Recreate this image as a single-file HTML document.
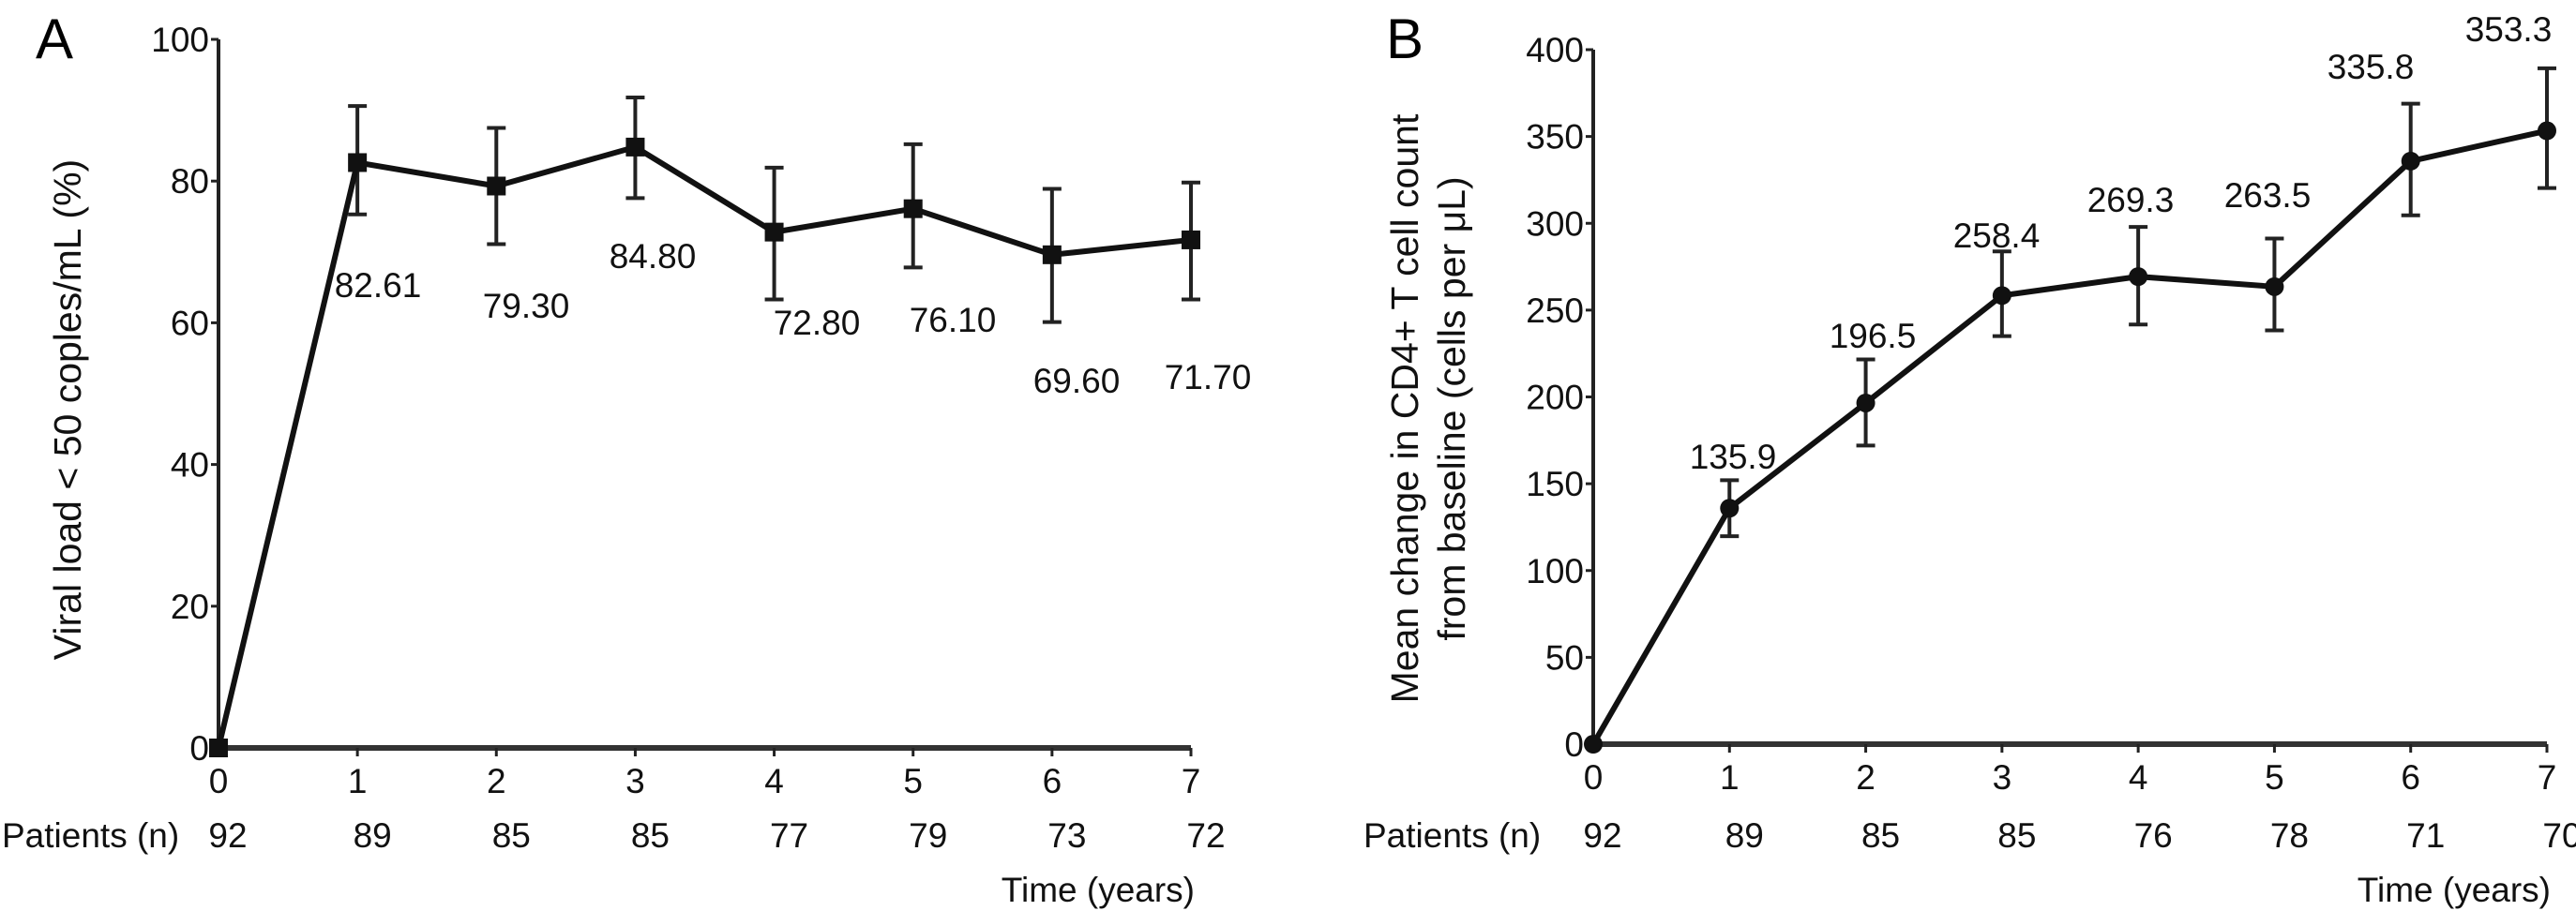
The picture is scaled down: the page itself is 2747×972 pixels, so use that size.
<!DOCTYPE html>
<html><head><meta charset="utf-8"><style>
html,body{margin:0;padding:0;background:#fff;}
svg{display:block;font-family:"Liberation Sans",Arial,sans-serif;}
.tk{font-size:37px;fill:#111;}
.ttl{font-size:41px;fill:#111;}
</style></head><body>
<svg id="chart" width="2747" height="972" viewBox="0 0 2747 972" xmlns="http://www.w3.org/2000/svg"></svg>
<script>
const years=[0,1,2,3,4,5,6,7];
const aValues=[0,82.61,79.30,84.80,72.80,76.10,69.60,71.70];
const aUpper=[0,90.6,87.5,91.8,81.9,85.2,78.9,79.8];
const aLower=[0,75.3,71.1,77.6,63.3,67.8,60.1,63.3];
const aLabels=["","82.61","79.30","84.80","72.80","76.10","69.60","71.70"];
const aPatients=[92,89,85,85,77,79,73,72];
const aTicks=[0,20,40,60,80,100];
const bValues=[0,135.9,196.5,258.4,269.3,263.5,335.8,353.3];
const bUpper=[0,152,221.6,283.8,297.9,291.2,368.9,389.3];
const bLower=[0,119.8,172,235,241.7,238.3,304.6,320.3];
const bLabels=["","135.9","196.5","258.4","269.3","263.5","335.8","353.3"];
const bPatients=[92,89,85,85,76,78,71,70];
const bTicks=[0,50,100,150,200,250,300,350,400];

const NS="http://www.w3.org/2000/svg";
const svg=document.getElementById('chart');
function mk(tag,attrs,parent,text){const e=document.createElementNS(NS,tag);for(const k in attrs)e.setAttribute(k,attrs[k]);if(text!==undefined)e.textContent=text;(parent||svg).appendChild(e);return e;}

function panel(o){
  const g=mk('g',{});
  
  
  const X=v=>o.x0+(v-0)*(o.x1-o.x0)/7;
  const Y=v=>o.y0-(v/o.ymax)*(o.y0-o.ytop);
  const ya=mk('line',{x1:o.x0,x2:o.x0,y1:Y(o.ymax),y2:o.y0,stroke:'#222','stroke-width':4},g);
  
  
  const xa=mk('line',{x1:o.x0,x2:X(7),y1:o.y0,y2:o.y0,stroke:'#333','stroke-width':6},g);
  
  
  o.ticks.forEach(t=>{
    mk('line',{x1:o.x0-8,x2:o.x0,y1:Y(t),y2:Y(t),stroke:'#222','stroke-width':3},g);
    const tl=mk('text',{x:o.x0-10,y:Y(t)+13,'text-anchor':'end',class:'tk'},g,String(t));
    
    
  });
  years.forEach((yr,i)=>{
    mk('line',{x1:X(yr),x2:X(yr),y1:o.y0,y2:o.y0+9,stroke:'#222','stroke-width':3},g);
    const xl=mk('text',{x:X(yr),y:o.y0+48,'text-anchor':'middle',class:'tk'},g,String(yr));
    
    
    const pl=mk('text',{x:X(yr)+(i==0?10:16),y:904,'text-anchor':'middle',class:'tk'},g,String(o.patients[i]));
    
    
  });
  const pt=mk('text',{x:o.px,y:904,class:'tk'},g,'Patients (n)');
  
  
  const tt=mk('text',{x:X(7)+4,y:962,'text-anchor':'end',class:'tk'},g,'Time (years)');
  
  
  years.forEach((yr,i)=>{
    if(i==0)return;
    const eb=mk('path',{d:`M${X(yr)} ${Y(o.up[i])}V${Y(o.lo[i])}M${X(yr)-10} ${Y(o.up[i])}h20M${X(yr)-10} ${Y(o.lo[i])}h20`,stroke:'#222','stroke-width':4,fill:'none'},g);
    
    
  });
  const line=mk('polyline',{points:years.map((yr,i)=>X(yr)+','+Y(o.vals[i])).join(' '),fill:'none',stroke:'#111','stroke-width':6,'stroke-linejoin':'round'},g);
  
  
  years.forEach((yr,i)=>{
    let m;
    if(o.square) m=mk('rect',{x:X(yr)-10,y:Y(o.vals[i])-10,width:20,height:20,fill:'#111'},g);
    else m=mk('circle',{cx:X(yr),cy:Y(o.vals[i]),r:10,fill:'#111'},g);
    
    
    if(o.labels[i]){
      const vl=mk('text',{x:o.lx[i],y:o.ly[i]+13,'text-anchor':'middle',class:'tk'},g,o.labels[i]);
      
      
    }
  });
  return g;
}

panel({name:'panel-a',x0:233,x1:1270,y0:798,ytop:42,ymax:100,ticks:aTicks,vals:aValues,up:aUpper,lo:aLower,labels:aLabels,patients:aPatients,square:true,px:2,
  lx:[0,403,561,696,871,1016,1148,1288],ly:[0,304,326,273,344,341,406,402]});
panel({name:'panel-b',x0:1699,x1:2716,y0:794,ytop:53,ymax:400,ticks:bTicks,vals:bValues,up:bUpper,lo:bLower,labels:bLabels,patients:bPatients,square:false,px:1454,
  lx:[0,1848,1997,2129,2272,2418,2528,2675],ly:[0,487,358,251,213,208,71,31]});

let t=mk('text',{x:38,y:62,style:'font-size:60px'},svg,'A');


t=mk('text',{x:1478,y:62,style:'font-size:60px'},svg,'B');


t=mk('text',{x:0,y:0,class:'ttl','text-anchor':'middle',transform:'translate(86,437) rotate(-90)'},svg,'Viral load < 50 coples/mL (%)');


t=mk('text',{x:0,y:0,class:'ttl','text-anchor':'middle',transform:'translate(1512,436) rotate(-90)'},svg,'Mean change in CD4+ T cell count');


t=mk('text',{x:0,y:0,class:'ttl','text-anchor':'middle',transform:'translate(1562,436) rotate(-90)'},svg,'from baseline (cells per μL)');


</script>
</body></html>
